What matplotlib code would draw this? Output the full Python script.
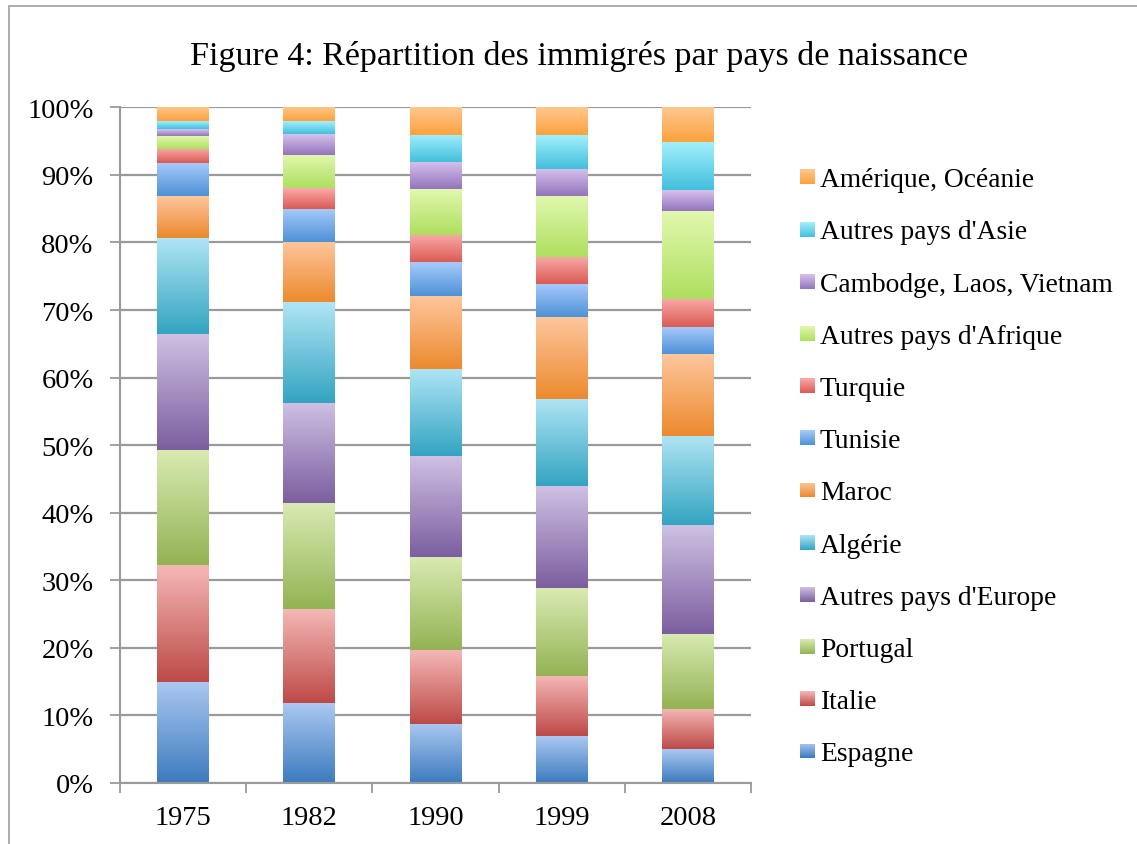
import matplotlib
matplotlib.use("Agg")
import matplotlib.pyplot as plt
import numpy as np
from matplotlib.patches import Rectangle
from matplotlib.colors import LinearSegmentedColormap

years = ["1975", "1982", "1990", "1999", "2008"]
series_names = ["Espagne", "Italie", "Portugal", "Autres pays d'Europe", "Algérie",
                "Maroc", "Tunisie", "Turquie", "Autres pays d'Afrique",
                "Cambodge, Laos, Vietnam", "Autres pays d'Asie", "Amérique, Océanie"]

espagne = [15.0, 11.8, 8.8, 6.9, 5.0]
italie = [17.2, 13.9, 10.9, 9.0, 6.0]
portugal = [17.1, 15.8, 13.8, 13.0, 11.1]
autres_europe = [17.2, 14.8, 14.9, 15.0, 16.1]
algerie = [14.2, 14.9, 12.9, 13.0, 13.2]
maroc = [6.1, 8.9, 10.8, 12.0, 12.1]
tunisie = [5.0, 4.9, 5.0, 5.0, 4.0]
turquie = [2.1, 3.0, 4.0, 4.0, 4.2]
autres_afrique = [1.9, 5.0, 6.8, 9.0, 13.0]
cambodge = [1.0, 3.0, 4.0, 4.0, 3.1]
autres_asie = [1.1, 1.9, 4.0, 5.0, 7.1]
amerique = [2.1, 2.1, 4.1, 4.1, 5.1]

series_values = [espagne, italie, portugal, autres_europe, algerie, maroc,
                 tunisie, turquie, autres_afrique, cambodge, autres_asie, amerique]

# (top light, bottom dark) gradient colors
grad_colors = [
    ("#abc8f2", "#3c7bbd"),
    ("#f5b8b6", "#bd4a47"),
    ("#d9ebb3", "#93b353"),
    ("#cfc1e4", "#7b5e9f"),
    ("#b0e5f5", "#33a4c1"),
    ("#fec69c", "#ec8a2e"),
    ("#a8cbfc", "#4e91d6"),
    ("#faaba8", "#db5a54"),
    ("#e2f8ae", "#addf5f"),
    ("#d6c3ee", "#9474bc"),
    ("#a2f0fd", "#42bfdc"),
    ("#fec88e", "#fca23e"),
]

W, H = 1137, 845
fig = plt.figure(figsize=(W / 100, H / 100), dpi=100)
fig.patch.set_facecolor("white")
FONT = "Liberation Serif"
plt.rcParams["font.family"] = [FONT, "DejaVu Serif"]

# outer border
fig.patches.append(Rectangle((8.5 / W, -0.1), 1.2, 1 - 6.5 / H + 0.1, transform=fig.transFigure,
                             fill=False, edgecolor="#a6a6a6", linewidth=1.3, zorder=0))

ax_left, ax_right = 120 / W, 751 / W
ax_bottom, ax_top = 1 - 784 / H, 1 - 108.3 / H
ax = fig.add_axes([ax_left, ax_bottom, ax_right - ax_left, ax_top - ax_bottom])

x = np.arange(len(years)) + 0.5
width = 0.41
data = np.array(series_values)
totals = data.sum(axis=0)
pct = data / totals * 100
bottoms = np.zeros(len(years))
grad = np.linspace(0, 1, 256).reshape(-1, 1)
for i, name in enumerate(series_names):
    light, dark = grad_colors[i]
    bars = ax.bar(x, pct[i], width, bottom=bottoms, color=dark, linewidth=0, zorder=3, label=name)
    cmap = LinearSegmentedColormap.from_list("g%d" % i, [dark, light])
    for b in bars:
        x0, y0 = b.get_x(), b.get_y()
        im = ax.imshow(grad, cmap=cmap, aspect="auto", origin="lower",
                       extent=(x0, x0 + b.get_width(), y0, y0 + b.get_height()), zorder=4)
        im.set_clip_path(b)
    bottoms += pct[i]

ax.set_xlim(0, len(years))
ax.set_ylim(0, 100)
ax.set_yticks(np.arange(0, 101, 10))
ax.set_yticklabels(["%d%%" % v for v in range(0, 101, 10)], fontsize=20.5)
ax.yaxis.grid(True, color="#9a9a9a", linewidth=1.6, zorder=1)
ax.set_axisbelow(True)
ax.set_xticks(np.arange(0, len(years) + 1), minor=False)
ax.set_xticklabels([])
ax.set_xticks(x, minor=True)
ax.set_xticklabels(years, minor=True, fontsize=20.5)
ax.tick_params(axis="x", which="major", length=7, width=1.3, color="#9a9a9a", direction="out")
ax.tick_params(axis="x", which="minor", length=0, pad=16)
ax.tick_params(axis="y", length=7, width=1.3, color="#9a9a9a", direction="out", pad=12)
for s in ["top", "right"]:
    ax.spines[s].set_visible(False)
for s in ["left", "bottom"]:
    ax.spines[s].set_color("#9a9a9a")
    ax.spines[s].set_linewidth(1.5)
ax.spines["bottom"].set_zorder(5)

# Title
fig.text(579 / W, 1 - 57 / H, "Figure 4: Répartition des immigrés par pays de naissance",
         ha="center", va="center", fontsize=24.5, family=FONT)

# Legend (manual, reversed order)
for i, name in enumerate(series_names):
    yc = 752 - 52.2 * i
    light, dark = grad_colors[i]
    lax = fig.add_axes([800 / W, 1 - (yc + 7.5) / H, 15 / W, 15 / H])
    lax.imshow(grad, cmap=LinearSegmentedColormap.from_list("l%d" % i, [dark, light]),
               aspect="auto", origin="lower", extent=(0, 1, 0, 1))
    lax.set_axis_off()
    fig.text(820 / W, 1 - (yc + 3) / H, name, ha="left", va="center", fontsize=19.8, family=FONT)

fig.savefig("out.png", dpi=100)
